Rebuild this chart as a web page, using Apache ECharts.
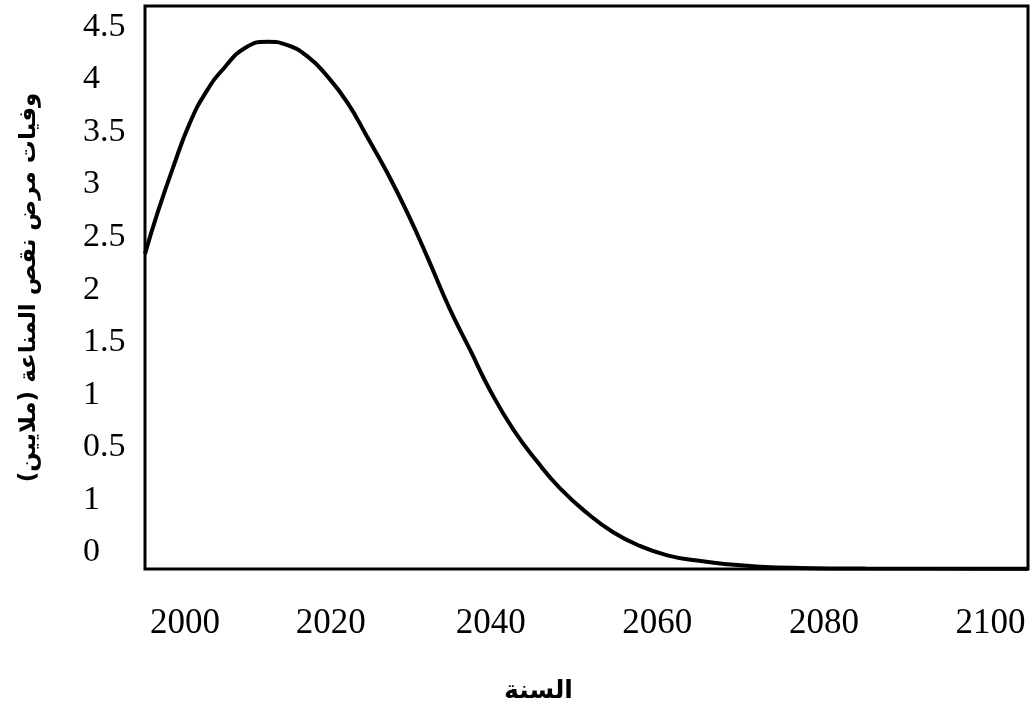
<!DOCTYPE html>
<html>
<head>
<meta charset="utf-8">
<script src="https://cdn.jsdelivr.net/npm/echarts@6/dist/echarts.min.js"></script>
<style>
    html, body { margin: 0; padding: 0; background: #fff; }
    #chart-container { width: 1033px; height: 713px; }
</style>
</head>
<body>
<div id="chart-container"></div>
<script>
// years and deaths (y in plot units, 0 = bottom of frame)
var years = [1998.5, 2000.0, 2001.9, 2003.9, 2005.9, 2008.0, 2010.5, 2013.2, 2015.5, 2018.0,
    2020.4, 2022.8, 2025.2, 2027.6, 2030.0, 2032.5, 2035.0, 2037.5, 2040.0, 2042.7,
    2045.6, 2048.3, 2051.6, 2054.7, 2057.9, 2061.2, 2064.8, 2068.4, 2072.3, 2077.1,
    2085.0, 2104.5];
var deaths = [3.00, 3.39, 3.83, 4.25, 4.55, 4.77, 4.96, 5.02, 4.99, 4.88,
    4.69, 4.44, 4.11, 3.77, 3.39, 2.95, 2.49, 2.09, 1.69, 1.33,
    1.02, 0.77, 0.53, 0.35, 0.22, 0.13, 0.08, 0.045, 0.022, 0.01,
    0.004, 0.002];

// tick labels as printed, and where they sit
var xTickAt = [2003.3, 2020.8, 2040, 2060, 2080, 2100];
var xTickText = ['2000', '2020', '2040', '2060', '2080', '2100'];
var yTickAt = [0.16, 0.66, 1.16, 1.66, 2.16, 2.66, 3.16, 3.66, 4.16, 4.66, 5.16];
var yTickText = ['0', '1', '0.5', '1', '1.5', '2', '2.5', '3', '3.5', '4', '4.5'];

var xName = 'السنة';
var yName = 'وفيات مرض نقص المناعة (ملايين)';

function pick(list, text, v) {
    for (var i = 0; i < list.length; i++) {
        if (Math.abs(list[i] - v) < 1e-6) return text[i];
    }
    return '';
}

var myChart = echarts.init(document.getElementById('chart-container'));

var points = [];
years.forEach(function (y, i) {
    points.push([y, deaths[i]]);
});

var option = {
    animation: false,
    backgroundColor: '#fff',
    grid: {
        left: 145, right: 5, top: 6, bottom: 144,
        show: true,
        borderColor: '#000',
        borderWidth: 3,
        backgroundColor: 'transparent'
    },
    xAxis: {
        type: 'value',
        min: 1998.5,
        max: 2104.5,
        axisLine: { show: false },
        axisTick: { show: false },
        splitLine: { show: false },
        axisLabel: {
            customValues: xTickAt,
            formatter: function (v) { return pick(xTickAt, xTickText, v); },
            color: '#000',
            fontFamily: 'Liberation Serif',
            fontSize: 35,
            margin: 37
        },
        name: xName,
        nameLocation: 'middle',
        nameGap: 110,
        nameTextStyle: {
            color: '#000',
            fontFamily: 'DejaVu Sans',
            fontWeight: 'bold',
            fontSize: 25,
            padding: [0, 96, 0, 0]
        }
    },
    yAxis: {
        type: 'value',
        min: 0,
        max: 5.36,
        axisLine: { show: false },
        axisTick: { show: false },
        splitLine: { show: false },
        axisLabel: {
            customValues: yTickAt,
            formatter: function (v) { return pick(yTickAt, yTickText, v); },
            color: '#000',
            fontFamily: 'Liberation Serif',
            fontSize: 34,
            align: 'left',
            margin: 62
        },
        name: yName,
        nameLocation: 'middle',
        nameRotate: 90,
        nameGap: 104,
        nameTextStyle: {
            color: '#000',
            fontFamily: 'DejaVu Sans',
            fontWeight: 'bold',
            fontSize: 23
        }
    },
    series: [{
        type: 'line',
        data: points,
        smooth: true,
        showSymbol: false,
        clip: true,
        lineStyle: { color: '#000', width: 4 }
    }]
};

myChart.setOption(option);
</script>
</body>
</html>
